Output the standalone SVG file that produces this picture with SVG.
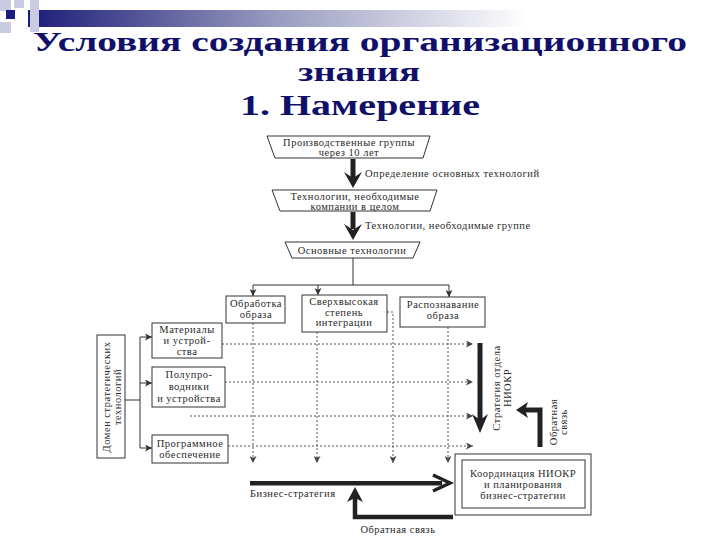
<svg xmlns="http://www.w3.org/2000/svg" width="720" height="540" viewBox="0 0 720 540">
<defs>
<linearGradient id="bar" x1="0" y1="0" x2="1" y2="0">
<stop offset="0" stop-color="#1c1c78"/>
<stop offset="0.5" stop-color="#9a9cc0"/>
<stop offset="1" stop-color="#ffffff"/>
</linearGradient>
<marker id="ah" viewBox="0 0 8 8" refX="8" refY="4" markerWidth="7" markerHeight="7" markerUnits="userSpaceOnUse" orient="auto">
<path d="M0,0 L8,4 L0,8 L2,4 Z" fill="#333"/>
</marker>
<marker id="dh" viewBox="0 0 8 8" refX="8" refY="4" markerWidth="7" markerHeight="7" markerUnits="userSpaceOnUse" orient="auto">
<path d="M0,0 L8,4 L0,8 L2,4 Z" fill="#444"/>
</marker>
</defs>
<style>
.t{font-family:"Liberation Serif","Times New Roman",serif;fill:#10106a;font-weight:bold;text-anchor:middle}
.d{font-family:"Liberation Serif","Times New Roman",serif;fill:#2a2a2a;font-size:10.5px;letter-spacing:0.5px;text-anchor:middle}
.l{font-family:"Liberation Serif","Times New Roman",serif;fill:#2a2a2a;font-size:10.5px;letter-spacing:0.5px}
.box{fill:#fff;stroke:#333;stroke-width:1}
.ln{fill:none;stroke:#333;stroke-width:1}
.dot{fill:none;stroke:#555;stroke-width:1;stroke-dasharray:2,2}
.thick{fill:#222;stroke:none}
.sq{fill:#c9cce0}
</style>
<rect width="720" height="540" fill="#fff"/>
<!-- decoration -->
<g id="decor">
<rect x="28" y="10" width="500" height="17" fill="url(#bar)"/>
<rect class="sq" x="0" y="0" width="11" height="11"/>
<rect class="sq" x="14" y="0" width="10" height="8"/>
<rect class="sq" x="0" y="22" width="11" height="11"/>
<rect class="sq" x="30" y="0" width="9" height="32"/>
<rect x="6" y="10" width="9" height="9" fill="#1c1c80"/>
</g>
<g id="title">
<text class="t" x="360" y="51" font-size="28" textLength="654" lengthAdjust="spacingAndGlyphs">Условия создания организационного</text>
<text class="t" x="359" y="81" font-size="28" textLength="122" lengthAdjust="spacingAndGlyphs">знания</text>
<text class="t" x="360" y="115" font-size="30" textLength="240" lengthAdjust="spacingAndGlyphs">1. Намерение</text>
</g>
<!-- nodes -->
<g id="n-prod">
<polygon class="box" points="267,136 430,136 423,158 275,158"/>
<text class="d" x="349" y="146">Производственные группы</text>
<text class="d" x="349" y="156">через 10 лет</text>
</g>
<g id="n-techco">
<polygon class="box" points="272,190 437,190 430,211 280,211"/>
<text class="d" x="355" y="199.5">Технологии, необходимые</text>
<text class="d" x="355" y="209.5">компании в целом</text>
</g>
<g id="n-core">
<polygon class="box" points="285,242 420,242 413,258 292,258"/>
<text class="d" x="352" y="254">Основные технологии</text>
</g>
<g id="n-img">
<rect class="box" x="226" y="296" width="59" height="27"/>
<text class="d" x="256" y="307">Обработка</text>
<text class="d" x="256" y="318">образа</text>
</g>
<g id="n-vlsi">
<rect class="box" x="302" y="295" width="85" height="37"/>
<text class="d" x="344" y="305">Сверхвысокая</text>
<text class="d" x="344" y="315.5">степень</text>
<text class="d" x="344" y="326">интеграции</text>
</g>
<g id="n-recog">
<rect class="box" x="400" y="297" width="85" height="30"/>
<text class="d" x="443" y="308">Распознавание</text>
<text class="d" x="443" y="319">образа</text>
</g>
<g id="n-domain">
<rect class="box" x="97" y="335" width="28" height="123"/>
<text class="d" transform="translate(110,397) rotate(-90)">Домен стратегических</text>
<text class="d" transform="translate(121,397) rotate(-90)">технологий</text>
</g>
<g id="n-mat">
<rect class="box" x="152" y="323" width="70" height="35"/>
<text class="d" x="187" y="333">Материалы</text>
<text class="d" x="187" y="344">и устрой-</text>
<text class="d" x="187" y="355">ства</text>
</g>
<g id="n-semi">
<rect class="box" x="152" y="367" width="73" height="40"/>
<text class="d" x="189" y="377.5">Полупро-</text>
<text class="d" x="189" y="389.5">водники</text>
<text class="d" x="189" y="401.5">и устройства</text>
</g>
<g id="n-soft">
<rect class="box" x="152" y="435" width="76" height="28"/>
<text class="d" x="190" y="447">Программное</text>
<text class="d" x="190" y="458">обеспечение</text>
</g>
<g id="n-coord">
<rect class="box" x="455" y="454" width="136" height="61"/>
<rect class="box" x="462" y="460" width="123" height="48"/>
<text class="d" x="523" y="477">Координация НИОКР</text>
<text class="d" x="523" y="488">и планирования</text>
<text class="d" x="523" y="499">бизнес-стратегии</text>
</g>
<!-- connectors -->
<g id="connectors">
<rect class="thick" x="350.5" y="159" width="5" height="19"/>
<polygon class="thick" points="344,172 353,188 362,172 353,178"/>
<text class="l" x="365" y="177">Определение основных технологий</text>
<rect class="thick" x="350.5" y="212" width="5" height="17"/>
<polygon class="thick" points="344,224 353,240 362,224 353,230"/>
<text class="l" x="365" y="229">Технологии, необходимые группе</text>
<path class="ln" d="M353,258 V285 M253,285 H449"/>
<path class="ln" d="M253,285 V296" marker-end="url(#ah)"/>
<path class="ln" d="M318,285 V295" marker-end="url(#ah)"/>
<path class="ln" d="M449,285 V297" marker-end="url(#ah)"/>
<path class="ln" d="M125,400 H140 M140,337 V448"/>
<path class="ln" d="M140,337 H152" marker-end="url(#ah)"/>
<path class="ln" d="M140,383 H152" marker-end="url(#ah)"/>
<path class="ln" d="M140,448 H152" marker-end="url(#ah)"/>
<path class="dot" d="M253,323 V463" marker-end="url(#dh)"/>
<path class="dot" d="M317,332 V463" marker-end="url(#dh)"/>
<path class="dot" d="M387,312 H393 V463" marker-end="url(#dh)"/>
<path class="dot" d="M448,327 V463" marker-end="url(#dh)"/>
<path class="dot" d="M222,344 H473" marker-end="url(#dh)"/>
<path class="dot" d="M225,382 H473" marker-end="url(#dh)"/>
<path class="dot" d="M190,416 H473" marker-end="url(#dh)"/>
<path class="dot" d="M228,446 H473" marker-end="url(#dh)"/>
<rect class="thick" x="477.5" y="343" width="5" height="78"/>
<polygon class="thick" points="472,414 480,433 488,414 480,420"/>
<text class="d" transform="translate(500,388) rotate(-90)">Стратегия отдела</text>
<text class="d" transform="translate(511,388) rotate(-90)">НИОКР</text>
<path d="M540,447 V410 H524" fill="none" stroke="#222" stroke-width="5"/>
<polygon class="thick" points="516,410 528,402 525,410 528,418"/>
<text class="d" transform="translate(557,422) rotate(-90)">Обратная</text>
<text class="d" transform="translate(567,422) rotate(-90)">связь</text>
<rect class="thick" x="250" y="481" width="192" height="4.5"/>
<path d="M433,475 L450,483 L433,491" fill="none" stroke="#222" stroke-width="3.5"/>
<text class="l" x="250" y="497">Бизнес-стратегия</text>
<path d="M453,517 H355 V498" fill="none" stroke="#222" stroke-width="4.5"/>
<polygon class="thick" points="355,487 347,502 355,498 363,502"/>
<text class="d" x="398" y="533">Обратная связь</text>
</g>
</svg>
